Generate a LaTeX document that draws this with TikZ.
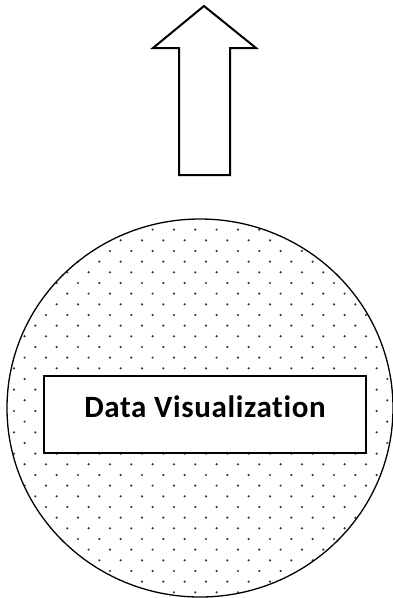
\documentclass[tikz,border=0pt]{standalone}
\usepackage{fontspec}
\setmainfont{Carlito}[Ligatures=NoCommon]
\newfontfamily\vizfont{Carlito}[Ligatures=NoCommon, LetterSpace=2]
\usetikzlibrary{shapes.geometric, positioning}
\tikzset{
  disc/.style={ellipse, draw=black, line width=1.3pt, minimum width=386pt, minimum height=378pt, inner sep=0pt},
  vizbox/.style={rectangle, draw=black, line width=1.5pt, fill=white, minimum width=322pt, minimum height=77pt, text height=21pt, text depth=15pt, font=\vizfont\bfseries\fontsize{31}{33}\selectfont},
  uparrow/.style={draw=black, line width=2pt, line join=miter, fill=white},
  spot/.style={fill=black!80}
}
\begin{document}
\begin{tikzpicture}[x=1pt, y=-1pt]
\useasboundingbox (0,0) rectangle (393,598);

% up arrow
\draw[uparrow] (204,6) -- (256,48) -- (230,48) -- (230,175) -- (179,175) -- (179,48) -- (153,48) -- cycle;

% dotted disc
\begin{scope}
\clip (200,408) ellipse [x radius=193, y radius=189];
\foreach \k in {0,...,37}{
  \pgfmathsetmacro{\yy}{208.3+10.667*\k}
  \pgfmathsetmacro{\xo}{mod(\k,2)==1 ? 14.0 : 3.3}
  \foreach \j in {0,...,18}
    \fill[spot] (\xo+21.333*\j,\yy) circle [radius=1.2];
}
\end{scope}
\node[disc] (disc) at (200,408) {};

\node[vizbox] (viz) at (205,414.5) {Data Visualization};

\end{tikzpicture}
\end{document}
